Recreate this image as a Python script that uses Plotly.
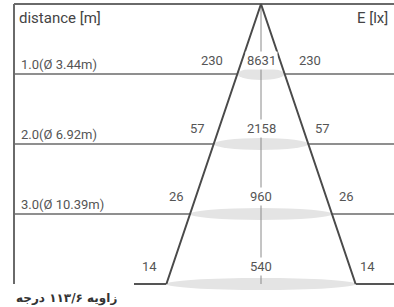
import plotly.graph_objects as go

# ---- data ----
distances = [1.0, 2.0, 3.0, 4.0]                 # m
diameters = [3.44, 6.92, 10.39, 13.85]           # m (beam diameter)
center_lux = [8631, 2158, 960, 540]
edge_lux = [230, 57, 26, 14]
row_labels = ["1.0(Ø 3.44m)", "2.0(Ø 6.92m)", "3.0(Ø 10.39m)"]
title_left = "distance [m]"
title_right = "E [lx]"
caption = "زاویه ۱۱۳/۶ درجه"

# ---- geometry / style ----
W, H = 394, 307
apex_px, top_px, px_per_m_y = 261, 4, 70.0
px_per_m_x = 23.5 / (diameters[0] / 2)
xr = [-apex_px / px_per_m_x, (W - apex_px) / px_per_m_x]
yr = [(H - top_px) / px_per_m_y, -top_px / px_per_m_y]
def px2x(p):
    return (p - apex_px) / px_per_m_x

left_x = px2x(14)
right_x = xr[1]
maxd = distances[-1]

TXT = "#555555"
FONT = "Roboto"

fig = go.Figure()
shapes = []

# horizontal row lines (under ellipses)
for d in distances[:-1]:
    shapes.append(dict(type="line", x0=left_x, x1=right_x, y0=d, y1=d,
                       line=dict(color="#6a6a6a", width=1.3), layer="below"))
# bottom partial lines
half_last = diameters[-1] / 2
shapes.append(dict(type="line", x0=px2x(134), x1=-half_last, y0=maxd, y1=maxd,
                   line=dict(color="#555555", width=2), layer="below"))
shapes.append(dict(type="line", x0=half_last, x1=right_x, y0=maxd, y1=maxd,
                   line=dict(color="#555555", width=2), layer="below"))
# frame
shapes.append(dict(type="line", x0=left_x, x1=right_x, y0=0, y1=0,
                   line=dict(color="#6a6a6a", width=2), layer="below"))
shapes.append(dict(type="line", x0=left_x, x1=left_x, y0=0, y1=maxd,
                   line=dict(color="#6a6a6a", width=2), layer="below"))
# ellipses
eh = 6 / px_per_m_y
for d, dia in zip(distances, diameters):
    shapes.append(dict(type="circle", x0=-dia / 2, x1=dia / 2, y0=d - eh, y1=d + eh,
                       fillcolor="#e4e4e4", line=dict(width=0), layer="below"))

# center line
fig.add_trace(go.Scatter(x=[0, 0], y=[0, maxd], mode="lines",
                         line=dict(color="#8a8a8a", width=1), hoverinfo="skip"))
# cone
fig.add_trace(go.Scatter(x=[-half_last, 0, half_last], y=[maxd, 0, maxd], mode="lines",
                         line=dict(color="#4a4a4a", width=2), hoverinfo="skip"))

ann = []
lbl_dy = [14, 16, 18, 18]
gap_l = [13, 7, 4, 7]
gap_r = [12, 5, 5, 2]
for i, (d, dia) in enumerate(zip(distances, diameters)):
    ann.append(dict(x=0, y=d, text=str(center_lux[i]), showarrow=False,
                    xanchor="center", yanchor="middle", yshift=lbl_dy[i],
                    bgcolor="white", borderpad=1,
                    font=dict(family=FONT, size=13, color=TXT)))
    ann.append(dict(x=-dia / 2, y=d, text=str(edge_lux[i]), showarrow=False,
                    xanchor="right", yanchor="middle", yshift=lbl_dy[i], xshift=-gap_l[i],
                    font=dict(family=FONT, size=13, color=TXT)))
    ann.append(dict(x=dia / 2, y=d, text=str(edge_lux[i]), showarrow=False,
                    xanchor="left", yanchor="middle", yshift=lbl_dy[i], xshift=gap_r[i],
                    font=dict(family=FONT, size=13, color=TXT)))
for d, lab in zip(distances, row_labels):
    ann.append(dict(x=left_x, y=d, text=lab, showarrow=False, xanchor="left",
                    yanchor="middle", yshift=9.5, xshift=5,
                    font=dict(family=FONT, size=13, color=TXT)))
ann.append(dict(x=left_x, y=0, text=title_left, showarrow=False, xanchor="left",
                yanchor="middle", yshift=-14, xshift=3,
                font=dict(family=FONT, size=15, color="#444444")))
ann.append(dict(x=right_x, y=0, text=title_right, showarrow=False, xanchor="right",
                yanchor="middle", yshift=-14, xshift=-4,
                font=dict(family=FONT, size=15, color="#444444")))
ann.append(dict(xref="paper", yref="paper", x=14 / W, y=1 - 298 / H, text="<b>" + caption + "</b>",
                showarrow=False, xanchor="left", yanchor="middle",
                font=dict(family="DejaVu Sans", size=12, color="#333333")))

fig.update_layout(width=W, height=H, margin=dict(l=0, r=0, t=0, b=0),
                  plot_bgcolor="white", paper_bgcolor="white", showlegend=False,
                  shapes=shapes, annotations=ann,
                  xaxis=dict(range=xr, visible=False, fixedrange=True),
                  yaxis=dict(range=yr, visible=False, fixedrange=True))
fig.write_html("out.html", config={"displayModeBar": False},
               post_script="document.body.style.margin='0';document.body.style.overflow='hidden';")
